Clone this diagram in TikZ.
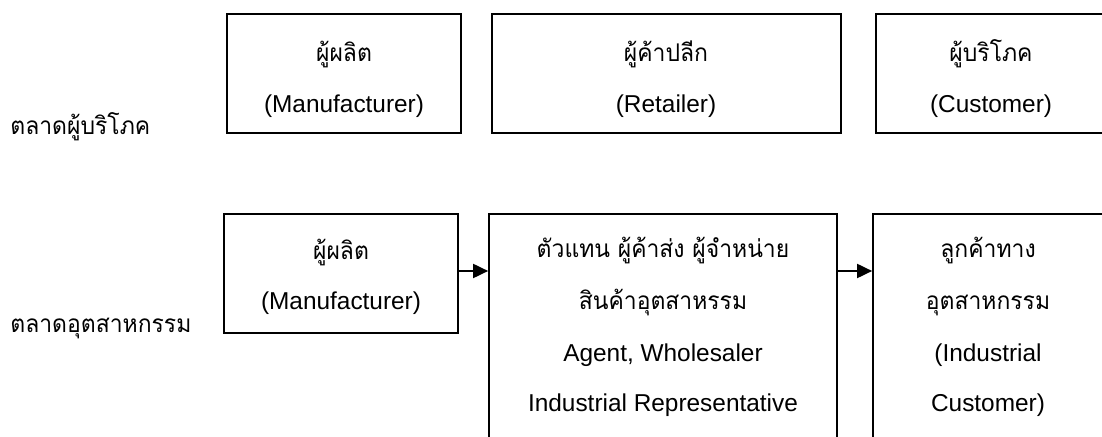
\documentclass[tikz,border=0pt]{standalone}
\usepackage{fontspec}
\setmainfont{Liberation Sans}
\newfontfamily\thai[Script=Thai,FakeStretch=0.94]{Loma}
\usetikzlibrary{fit,arrows.meta}
\tikzset{
  box/.style={draw, line width=0.85pt, inner sep=0pt},
  lbl/.style={anchor=base, inner sep=0pt, font=\fontsize{12.2pt}{14pt}\selectfont},
  arr/.style={line width=0.95pt, -{Triangle[length=7.5pt,width=7pt]}}
}
\begin{document}
\begin{tikzpicture}[x=0.5pt,y=-0.5pt]
\useasboundingbox (0,0) rectangle (1102,437);
\clip (0,0) rectangle (1102,437);
% top row: consumer market
\node[box, fit={(227,14) (461,133)}] (t1) {};
\node[box, fit={(492,14) (841,133)}] (t2) {};
\node[box, fit={(876,14) (1106,133)}] (t3) {};
% bottom row: industrial market
\node[box, fit={(224,214) (458,333)}] (b1) {};
\node[box, fit={(489,214) (837,470)}] (b2) {};
\node[box, fit={(873,214) (1103,470)}] (b3) {};
% left labels
\node[lbl, anchor=base west] (l1) at (10,135) {\thai ตลาดผู้บริโภค};
\node[lbl, anchor=base west] (l2) at (10,333) {\thai ตลาดอุตสาหกรรม};
% top texts
\node[lbl] (t1a) at (344,62) {\thai ผู้ผลิต};
\node[lbl] (t1b) at (344,113) {(Manufacturer)};
\node[lbl] (t2a) at (666,62) {\thai ผู้ค้าปลีก};
\node[lbl] (t2b) at (666,113) {(Retailer)};
\node[lbl] (t3a) at (991,62) {\thai ผู้บริโภค};
\node[lbl] (t3b) at (991,113) {(Customer)};
% bottom texts
\node[lbl] (b1a) at (341,260) {\thai ผู้ผลิต};
\node[lbl] (b1b) at (341,310) {(Manufacturer)};
\node[lbl] (b2a) at (663,258) {\thai ตัวแทน ผู้ค้าส่ง ผู้จำหน่าย};
\node[lbl] (b2b) at (663,310) {\thai สินค้าอุตสาหรรม};
\node[lbl] (b2c) at (663,362) {Agent, Wholesaler};
\node[lbl] (b2d) at (663,412) {Industrial Representative};
\node[lbl] (b3a) at (988,258) {\thai ลูกค้าทาง};
\node[lbl] (b3b) at (988,310) {\thai อุตสาหกรรม};
\node[lbl] (b3c) at (988,362) {(Industrial};
\node[lbl] (b3d) at (988,412) {Customer)};
% arrows
\coordinate (a1) at ([yshift=1.25pt]b1.east);
\draw[arr] (a1) -- (a1 -| b2.west);
\draw[arr] (a1 -| b2.east) -- (a1 -| b3.west);
\end{tikzpicture}
\end{document}
